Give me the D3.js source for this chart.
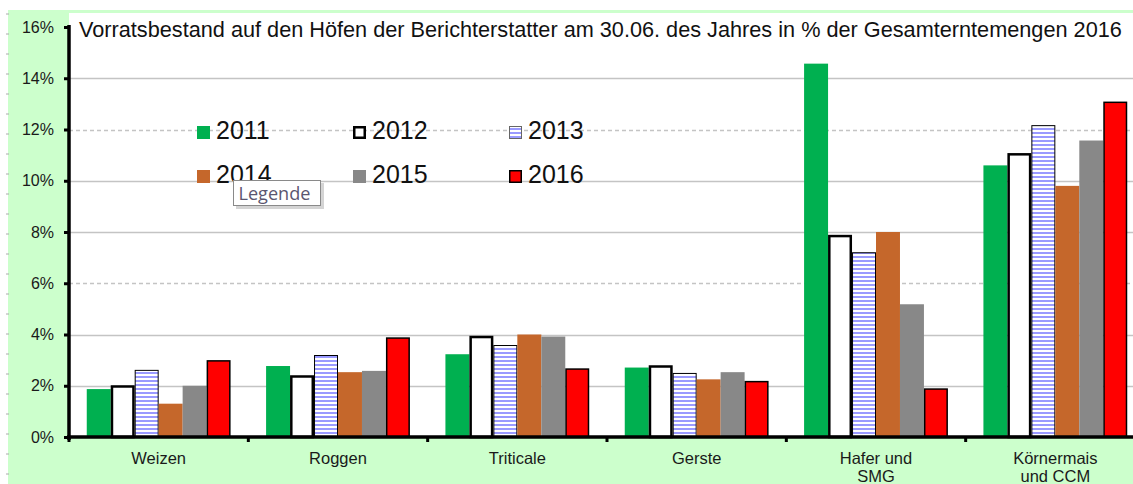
<!DOCTYPE html>
<html><head><meta charset="utf-8">
<script src="https://cdn.jsdelivr.net/npm/d3@7"></script>
<style>
html,body{margin:0;padding:0;background:#fff;}
svg{display:block;font-family:"Liberation Sans",Arial,sans-serif;}
</style></head>
<body><svg id="chart" width="1133" height="484"></svg>
<script>
const categories = [["Weizen"],["Roggen"],["Triticale"],["Gerste"],["Hafer und","SMG"],["Körnermais","und CCM"]];
const seriesNames = ["2011","2012","2013","2014","2015","2016"];
const v2011 = [1.87, 2.77, 3.23, 2.71, 14.57, 10.6];
const v2012 = [2.02, 2.41, 3.95, 2.80, 7.89, 11.08];
const v2013 = [2.62, 3.20, 3.59, 2.50, 7.21, 12.17];
const v2014 = [1.30, 2.53, 4.00, 2.25, 8.00, 9.80];
const v2015 = [2.00, 2.58, 3.92, 2.53, 5.18, 11.57];
const v2016 = [3.00, 3.89, 2.68, 2.19, 1.90, 13.09];
const yTicks = [0,2,4,6,8,10,12,14,16];
const title = "Vorratsbestand auf den Höfen der Berichterstatter am 30.06. des Jahres in % der Gesamterntemengen 2016";
const tooltipText = "Legende";

const values = [v2011,v2012,v2013,v2014,v2015,v2016];
const styles = [
  {fill:"#00b050", stroke:"none", sw:0},
  {fill:"#ffffff", stroke:"#000", sw:2.5},
  {fill:"url(#stripes)", stroke:"#000", sw:1},
  {fill:"#c5672b", stroke:"none", sw:0},
  {fill:"#888888", stroke:"none", sw:0},
  {fill:"#ff0000", stroke:"#000", sw:1.5}
];

const svg = d3.select("#chart");
const defs = svg.append("defs");
const pat = defs.append("pattern").attr("id","stripes").attr("patternUnits","userSpaceOnUse")
  .attr("width",8).attr("height",4);
pat.append("rect").attr("width",8).attr("height",4).attr("fill","#ffffff");
pat.append("rect").attr("width",8).attr("height",2).attr("fill","#9a9aff");

// backgrounds
svg.append("rect").attr("x",8).attr("y",10).attr("width",1125).attr("height",474).attr("fill","#ccffcc");
const x0 = 69, x1 = 1145, yTop = 13, y0px = 437;
svg.append("rect").attr("x",x0).attr("y",yTop).attr("width",1133-x0).attr("height",y0px-yTop).attr("fill","#fff");

// minor marks at far left
svg.append("g").selectAll("line").data(d3.range(0,24)).join("line")
  .attr("x1",6).attr("x2",9).attr("y1",d=>14+d*20).attr("y2",d=>14+d*20)
  .attr("stroke","#aaa").attr("stroke-width",1);

const y = d3.scaleLinear().domain([0,16]).range([y0px,27]);
const xc = d3.scaleBand().domain(d3.range(categories.length)).range([x0,x1]).padding(0);
const xs = d3.scaleBand().domain(d3.range(seriesNames.length))
  .range([xc.bandwidth()*0.099, xc.bandwidth()*0.901]).padding(0);

// gridlines
const dashed = new Set([6,12]);
svg.append("g").selectAll("line").data(yTicks.filter(t=>t>0 && t<16)).join("line")
  .attr("x1",x0).attr("x2",1133).attr("y1",d=>Math.round(y(d))+0.5).attr("y2",d=>Math.round(y(d))+0.5)
  .attr("stroke","#c4c4c4").attr("stroke-width",1.5)
  .attr("stroke-dasharray",d=>dashed.has(d)?"4,3":null);

// title
const t = svg.append("text").attr("x",79).attr("y",36.5).attr("font-size",18).attr("fill","#111").text(title);
const tw = t.node().getComputedTextLength();
t.attr("font-size", 18*1043/tw);

// bars
const g = svg.append("g");
values.forEach((vals,si)=>{
  const st = styles[si];
  g.append("g").selectAll("rect").data(vals).join("rect")
    .attr("x",(d,i)=>xc(i)+xs(si)+st.sw/2)
    .attr("width",xs.bandwidth()-st.sw)
    .attr("y",d=>y(d)+st.sw/2)
    .attr("height",d=>y0px-y(d)-st.sw/2)
    .attr("fill",st.fill).attr("stroke",st.stroke).attr("stroke-width",st.sw);
});

// axes
const yAxis = d3.axisLeft(y).tickValues(yTicks).tickFormat(d=>d+"%").tickSize(5).tickPadding(10);
const ya = svg.append("g").attr("transform",`translate(${x0},0)`).call(yAxis);
ya.select(".domain").attr("stroke","#000").attr("stroke-width",3.5).attr("d",`M0,${25}V${y0px+3}`);
ya.selectAll(".tick line").attr("stroke","#000").attr("stroke-width",3);
ya.selectAll(".tick text").attr("font-size",16).attr("fill","#1a1a1a").attr("font-family","Liberation Sans, Arial, sans-serif");

const xa = svg.append("g").attr("transform",`translate(0,${y0px})`);
xa.append("line").attr("x1",x0-2).attr("x2",1133).attr("y1",0).attr("y2",0).attr("stroke","#000").attr("stroke-width",3.5);
xa.selectAll(".ct").data(d3.range(categories.length)).join("line").attr("class","ct")
  .attr("x1",i=>xc(i)).attr("x2",i=>xc(i)).attr("y1",0).attr("y2",5).attr("stroke","#000").attr("stroke-width",3);
const lbl = xa.selectAll(".cl").data(categories).join("text").attr("class","cl")
  .attr("x",(d,i)=>xc(i)+xc.bandwidth()/2).attr("y",27).attr("text-anchor","middle")
  .attr("font-size",16.5).attr("fill","#1a1a1a");
lbl.each(function(d){
  const el = d3.select(this);
  d.forEach((s,k)=>el.append("tspan").attr("x",el.attr("x")).attr("dy",k===0?0:17.5).text(s));
});

// legend
const legPos = [[197,139],[353,139],[509,139],[197,183],[353,183],[509,183]];
const lg = svg.append("g");
seriesNames.forEach((n,i)=>{
  const st = styles[i];
  const [lx,ly] = legPos[i];
  const sw = i===1?2.5:(st.sw||0);
  lg.append("rect").attr("x",lx+sw/2).attr("y",ly-13+sw/2).attr("width",13-sw).attr("height",13-sw)
    .attr("fill",st.fill).attr("stroke",i===2?"#666":st.stroke).attr("stroke-width",i===2?1:sw);
  lg.append("text").attr("x",lx+19).attr("y",ly).attr("font-size",25).attr("fill","#111").text(n);
});

// tooltip
const tt = svg.append("g");
tt.append("rect").attr("x",236).attr("y",183).attr("width",88).attr("height",26).attr("fill","#b8b8b8").attr("opacity",0.6);
tt.append("rect").attr("x",233.5).attr("y",180.5).attr("width",87).attr("height",25).attr("fill","#fff").attr("stroke","#8a8a8a").attr("stroke-width",1);
const ttx = tt.append("text").attr("x",238.5).attr("y",199.5).attr("font-size",16).attr("font-family","Open Sans, Noto Sans, sans-serif").attr("fill","#5a5670").text(tooltipText);
const ttw = ttx.node().getComputedTextLength();
ttx.attr("font-size", 16*72/ttw);
</script></body></html>
